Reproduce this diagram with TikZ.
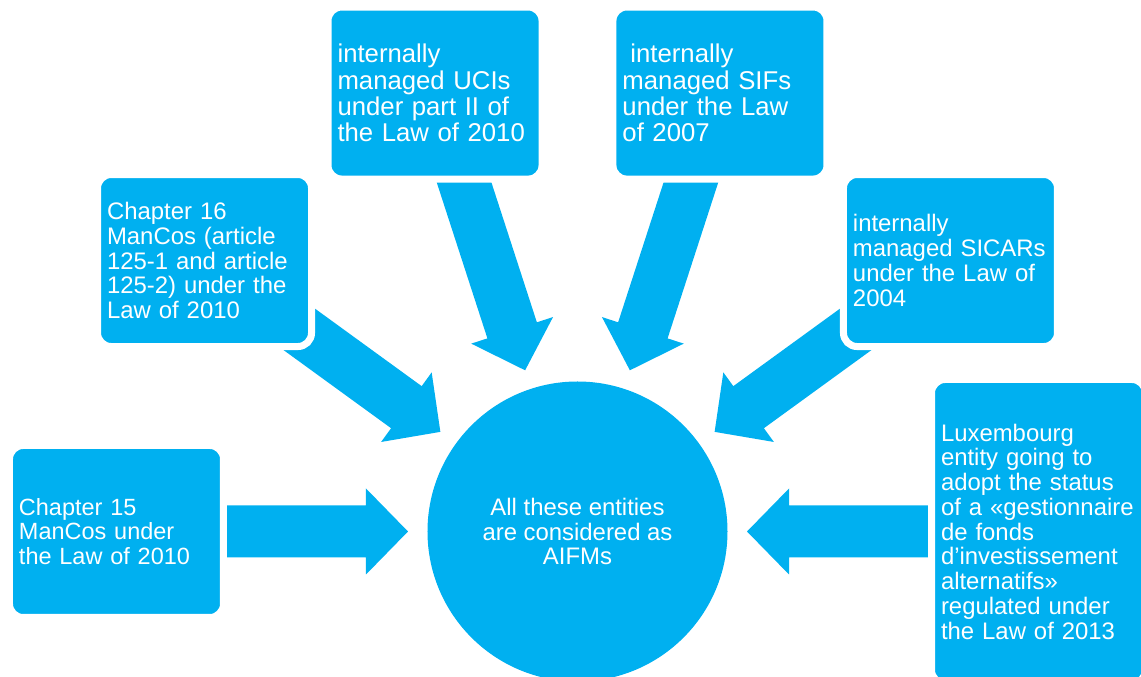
\documentclass[tikz,border=0pt]{standalone}
\usepackage{fontspec}
\setmainfont{Liberation Sans}
\usetikzlibrary{calc,backgrounds}
\definecolor{aifblue}{RGB}{0,176,240}

\begin{document}
\begin{tikzpicture}[
    entity/.style={rectangle, rounded corners=0.34cm, fill=aifblue, draw=white,
      line width=0.175cm, minimum width=5.35cm, minimum height=4.3cm,
      text width=4.875cm, inner xsep=0.2375cm, align=left, text=white,
      font=\fontsize{17pt}{17.6pt}\selectfont},
    big/.style={font=\fontsize{18.3pt}{18.8pt}\selectfont},
    hub/.style={circle, fill=aifblue, minimum size=7.5cm, align=center,
      text=white, font=\fontsize{17pt}{17.6pt}\selectfont},
    flow/.style={fill=aifblue, to path={
      ($(\tikztotarget.center)!4.2375cm!(\tikztostart.center)$)
      -- ($(\tikztotarget.center)!5.2875cm!(\tikztostart.center)!1.075cm!90:(\tikztostart.center)$)
      -- ($(\tikztotarget.center)!5.2875cm!(\tikztostart.center)!0.65cm!90:(\tikztostart.center)$)
      -- ($(\tikztostart.center)!0.65cm!-90:(\tikztotarget.center)$)
      -- ($(\tikztostart.center)!0.65cm!90:(\tikztotarget.center)$)
      -- ($(\tikztotarget.center)!5.2875cm!(\tikztostart.center)!0.65cm!-90:(\tikztostart.center)$)
      -- ($(\tikztotarget.center)!5.2875cm!(\tikztostart.center)!1.075cm!-90:(\tikztostart.center)$)
      -- cycle}}]
      \useasboundingbox (-14.4375,-3.6375) rectangle (14.0875,13.2875);
      \path
        (0,0) node[hub] (aifm) {All these entities\\are considered as\\AIFMs}
        (180:11.525) node[entity, font=\fontsize{16.7pt}{17.4pt}\selectfont] (ch15) {Chapter 15\\ManCos under\\the Law of 2010}
        (144:11.525) node[entity] (ch16) {Chapter 16\\ManCos (article\\125-1 and article\\125-2) under the\\Law of 2010}
        (108:11.525) node[entity, big] (ucis) {internally\\managed UCIs\\under part II of\\the Law of 2010}
        (72:11.525) node[entity, big] (sifs) {\hspace*{0.2cm}internally\\managed SIFs\\under the Law\\of 2007}
        (36:11.525) node[entity] (sicars) {internally\\managed SICARs\\under the Law of\\2004}
        (0:11.525) node[entity, minimum height=7.6cm] (lux) {Luxembourg\\entity going to\\adopt the status\\of a «gestionnaire\\de fonds\\d’investissement\\alternatifs»\\regulated under\\the Law of 2013};
      \begin{scope}[on background layer]
        \fill[flow] (ch15) to (aifm);
        \fill[flow] (ch16) to (aifm);
        \fill[flow] (ucis) to (aifm);
        \fill[flow] (sifs) to (aifm);
        \fill[flow] (sicars) to (aifm);
        \fill[flow] (lux) to (aifm);
      \end{scope}
    \end{tikzpicture}
\end{document}
